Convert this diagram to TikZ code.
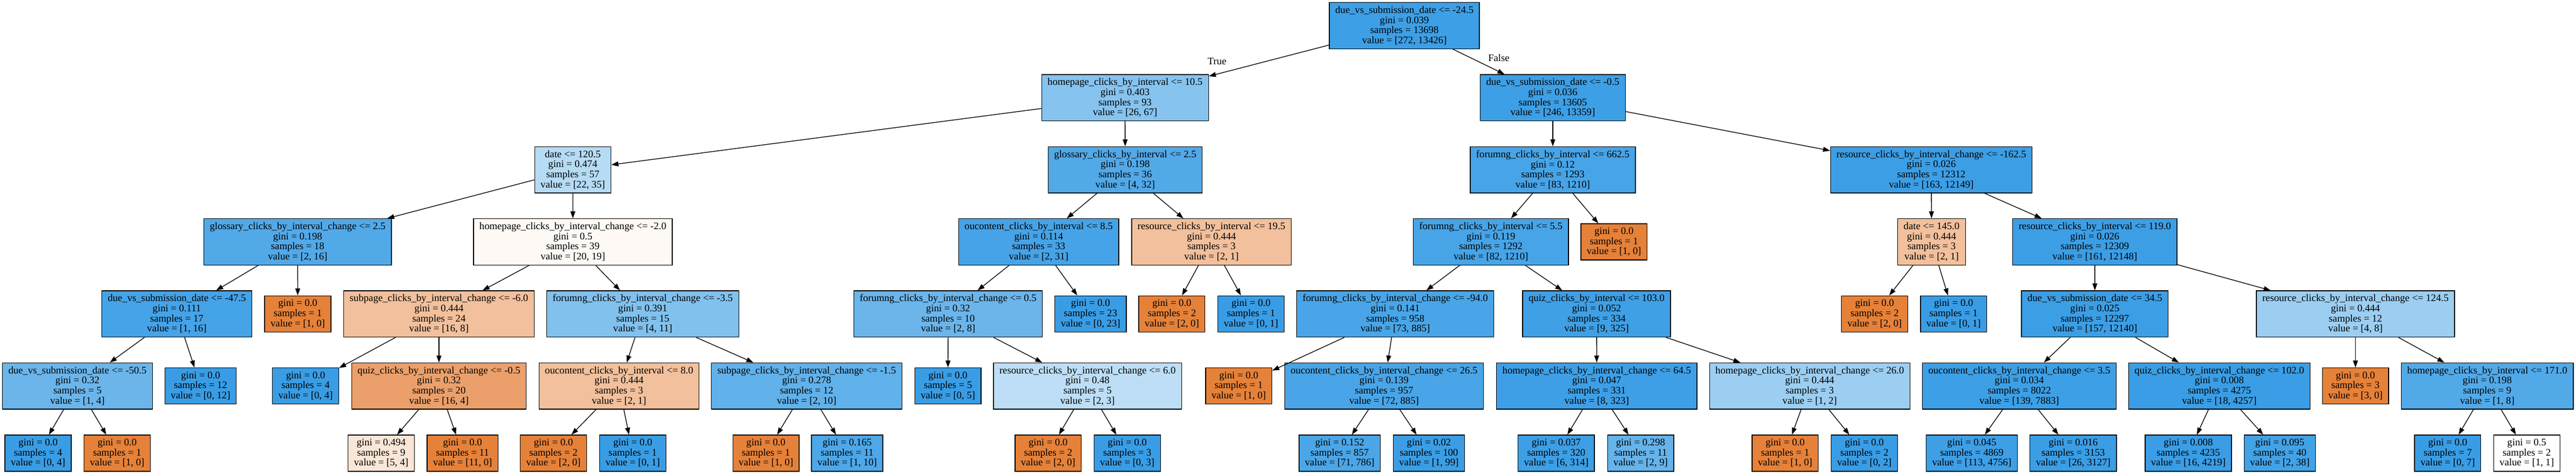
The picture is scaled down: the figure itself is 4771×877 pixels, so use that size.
\documentclass[tikz,border=0pt]{standalone}
\usepackage{fontspec}
\setmainfont{Liberation Serif}
\newfontfamily\treefam{Liberation Serif}
\usetikzlibrary{arrows.meta}
\definecolor{skb}{RGB}{57,157,229}
\definecolor{sko}{RGB}{229,129,57}
\newcommand{\treefont}{\treefam\fontsize{18.67pt}{18.67pt}\selectfont}
\tikzset{
  tn/.style={draw=black, line width=1.33pt, rectangle, align=center, inner xsep=11pt, inner ysep=2pt, minimum height=85.5pt, font=\treefont},
  lf/.style={tn, minimum height=67pt},
  edge/.style={line width=1.33pt, -{Triangle[length=13pt,width=9pt]}},
  elabel/.style={font=\treefont, inner sep=0pt},
}
\begin{document}
\begin{tikzpicture}[x=1pt,y=-1pt]
\fill[white] (0,0) rectangle (4771,877);
\useasboundingbox (0,0) rectangle (4771,877);
% Level 0
\node[tn, fill=skb!98!white] (r) at (2601.1,47.5) {due\_vs\_submission\_date <= -24.5\\gini = 0.039\\samples = 13698\\value = [272, 13426]};
% Level 1
\node[tn, fill=skb!61.2!white] (a) at (2083.7,180.8) {homepage\_clicks\_by\_interval <= 10.5\\gini = 0.403\\samples = 93\\value = [26, 67]};
\node[tn, fill=skb!98.2!white] (b) at (2875.9,180.8) {due\_vs\_submission\_date <= -0.5\\gini = 0.036\\samples = 13605\\value = [246, 13359]};
% Level 2
\node[tn, fill=skb!37.1!white] (aa) at (1060.9,314.2) {date <= 120.5\\gini = 0.474\\samples = 57\\value = [22, 35]};
\node[tn, fill=skb!87.5!white] (ab) at (2084,314.2) {glossary\_clicks\_by\_interval <= 2.5\\gini = 0.198\\samples = 36\\value = [4, 32]};
\node[tn, fill=skb!93.1!white] (ba) at (2875.9,314.2) {forumng\_clicks\_by\_interval <= 662.5\\gini = 0.12\\samples = 1293\\value = [83, 1210]};
\node[tn, fill=skb!98.7!white] (bb) at (3576.9,314.2) {resource\_clicks\_by\_interval\_change <= -162.5\\gini = 0.026\\samples = 12312\\value = [163, 12149]};
% Level 3
\node[tn, fill=skb!87.5!white] (aaa) at (551.3,447.5) {glossary\_clicks\_by\_interval\_change <= 2.5\\gini = 0.198\\samples = 18\\value = [2, 16]};
\node[tn, fill=sko!5!white] (aab) at (1061,447.5) {homepage\_clicks\_by\_interval\_change <= -2.0\\gini = 0.5\\samples = 39\\value = [20, 19]};
\node[tn, fill=skb!93.5!white] (aba) at (1923.7,447.5) {oucontent\_clicks\_by\_interval <= 8.5\\gini = 0.114\\samples = 33\\value = [2, 31]};
\node[tn, fill=sko!50!white] (abb) at (2243.7,447.5) {resource\_clicks\_by\_interval <= 19.5\\gini = 0.444\\samples = 3\\value = [2, 1]};
\node[tn, fill=skb!93.2!white] (baa) at (2761.3,447.5) {forumng\_clicks\_by\_interval <= 5.5\\gini = 0.119\\samples = 1292\\value = [82, 1210]};
\node[lf, fill=sko] (bab) at (2989.2,447.5) {gini = 0.0\\samples = 1\\value = [1, 0]};
\node[tn, fill=sko!50!white] (bba) at (3577.4,447.5) {date <= 145.0\\gini = 0.444\\samples = 3\\value = [2, 1]};
\node[tn, fill=skb!98.7!white] (bbb) at (3879.8,447.5) {resource\_clicks\_by\_interval <= 119.0\\gini = 0.026\\samples = 12309\\value = [161, 12148]};
% Level 4
\node[tn, fill=skb!93.75!white] (aaaa) at (327.5,580.8) {due\_vs\_submission\_date <= -47.5\\gini = 0.111\\samples = 17\\value = [1, 16]};
\node[lf, fill=sko] (aaab) at (551.5,580.8) {gini = 0.0\\samples = 1\\value = [1, 0]};
\node[tn, fill=sko!50!white] (aaba) at (813,580.8) {subpage\_clicks\_by\_interval\_change <= -6.0\\gini = 0.444\\samples = 24\\value = [16, 8]};
\node[tn, fill=skb!63.6!white] (aabb) at (1190.4,580.8) {forumng\_clicks\_by\_interval\_change <= -3.5\\gini = 0.391\\samples = 15\\value = [4, 11]};
\node[tn, fill=skb!75!white] (abaa) at (1756,580.8) {forumng\_clicks\_by\_interval\_change <= 0.5\\gini = 0.32\\samples = 10\\value = [2, 8]};
\node[lf, fill=skb] (abab) at (2019.8,580.8) {gini = 0.0\\samples = 23\\value = [0, 23]};
\node[lf, fill=sko] (abba) at (2170.4,580.8) {gini = 0.0\\samples = 2\\value = [2, 0]};
\node[lf, fill=skb] (abbb) at (2317,580.8) {gini = 0.0\\samples = 1\\value = [0, 1]};
\node[tn, fill=skb!91.75!white] (baaa) at (2584.1,580.8) {forumng\_clicks\_by\_interval\_change <= -94.0\\gini = 0.141\\samples = 958\\value = [73, 885]};
\node[tn, fill=skb!97.2!white] (baab) at (2957,580.8) {quiz\_clicks\_by\_interval <= 103.0\\gini = 0.052\\samples = 334\\value = [9, 325]};
\node[lf, fill=sko] (bbaa) at (3471.9,580.8) {gini = 0.0\\samples = 2\\value = [2, 0]};
\node[lf, fill=skb] (bbab) at (3618.2,580.8) {gini = 0.0\\samples = 1\\value = [0, 1]};
\node[tn, fill=skb!98.7!white] (bbba) at (3879.9,580.8) {due\_vs\_submission\_date <= 34.5\\gini = 0.025\\samples = 12297\\value = [157, 12140]};
\node[tn, fill=skb!50!white] (bbbb) at (4362.5,580.8) {resource\_clicks\_by\_interval\_change <= 124.5\\gini = 0.444\\samples = 12\\value = [4, 8]};
% Level 5
\node[tn, fill=skb!75!white] (aaaaa) at (143.5,714.2) {due\_vs\_submission\_date <= -50.5\\gini = 0.32\\samples = 5\\value = [1, 4]};
\node[lf, fill=skb] (aaaab) at (371.5,714.2) {gini = 0.0\\samples = 12\\value = [0, 12]};
\node[lf, fill=skb] (aabaa) at (566,714.2) {gini = 0.0\\samples = 4\\value = [0, 4]};
\node[tn, fill=sko!75!white] (aabab) at (813,714.2) {quiz\_clicks\_by\_interval\_change <= -0.5\\gini = 0.32\\samples = 20\\value = [16, 4]};
\node[tn, fill=sko!50!white] (aabba) at (1146.5,714.2) {oucontent\_clicks\_by\_interval <= 8.0\\gini = 0.444\\samples = 3\\value = [2, 1]};
\node[tn, fill=skb!80!white] (aabbb) at (1494,714.2) {subpage\_clicks\_by\_interval\_change <= -1.5\\gini = 0.278\\samples = 12\\value = [2, 10]};
\node[lf, fill=skb] (abaaa) at (1755.7,714.2) {gini = 0.0\\samples = 5\\value = [0, 5]};
\node[tn, fill=skb!33.3!white] (abaab) at (2014.2,714.2) {resource\_clicks\_by\_interval\_change <= 6.0\\gini = 0.48\\samples = 5\\value = [2, 3]};
\node[lf, fill=sko] (baaaa) at (2294.2,714.2) {gini = 0.0\\samples = 1\\value = [1, 0]};
\node[tn, fill=skb!91.9!white] (baaab) at (2563.4,714.2) {oucontent\_clicks\_by\_interval\_change <= 26.5\\gini = 0.139\\samples = 957\\value = [72, 885]};
\node[tn, fill=skb!97.5!white] (baaba) at (2957.3,714.2) {homepage\_clicks\_by\_interval\_change <= 64.5\\gini = 0.047\\samples = 331\\value = [8, 323]};
\node[tn, fill=skb!50!white] (baabb) at (3351.8,714.2) {homepage\_clicks\_by\_interval\_change <= 26.0\\gini = 0.444\\samples = 3\\value = [1, 2]};
\node[tn, fill=skb!98.2!white] (bbbaa) at (3739.9,714.2) {oucontent\_clicks\_by\_interval\_change <= 3.5\\gini = 0.034\\samples = 8022\\value = [139, 7883]};
\node[tn, fill=skb!99.6!white] (bbbab) at (4110.4,714.2) {quiz\_clicks\_by\_interval\_change <= 102.0\\gini = 0.008\\samples = 4275\\value = [18, 4257]};
\node[lf, fill=sko] (bbbba) at (4362.5,714.2) {gini = 0.0\\samples = 3\\value = [3, 0]};
\node[tn, fill=skb!87.5!white] (bbbbb) at (4606.6,714.2) {homepage\_clicks\_by\_interval <= 171.0\\gini = 0.198\\samples = 9\\value = [1, 8]};
% Level 6
\node[lf, fill=skb] (aaaaaa) at (70.5,838.5) {gini = 0.0\\samples = 4\\value = [0, 4]};
\node[lf, fill=sko] (aaaaab) at (217,838.5) {gini = 0.0\\samples = 1\\value = [1, 0]};
\node[lf, fill=sko!20!white] (aababa) at (706,838.5) {gini = 0.494\\samples = 9\\value = [5, 4]};
\node[lf, fill=sko] (aababb) at (856.7,838.5) {gini = 0.0\\samples = 11\\value = [11, 0]};
\node[lf, fill=sko] (aabbaa) at (1025,838.5) {gini = 0.0\\samples = 2\\value = [2, 0]};
\node[lf, fill=skb] (aabbab) at (1171.9,838.5) {gini = 0.0\\samples = 1\\value = [0, 1]};
\node[lf, fill=sko] (aabbba) at (1418.6,838.5) {gini = 0.0\\samples = 1\\value = [1, 0]};
\node[lf, fill=skb!90!white] (aabbbb) at (1569,838.5) {gini = 0.165\\samples = 11\\value = [1, 10]};
\node[lf, fill=sko] (abaaba) at (1941.2,838.5) {gini = 0.0\\samples = 2\\value = [2, 0]};
\node[lf, fill=skb] (abaabb) at (2087.8,838.5) {gini = 0.0\\samples = 3\\value = [0, 3]};
\node[lf, fill=skb!91!white] (baaaba) at (2481.2,838.5) {gini = 0.152\\samples = 857\\value = [71, 786]};
\node[lf, fill=skb!99!white] (baaabb) at (2646.5,838.5) {gini = 0.02\\samples = 100\\value = [1, 99]};
\node[lf, fill=skb!98.1!white] (baabaa) at (2882.3,838.5) {gini = 0.037\\samples = 320\\value = [6, 314]};
\node[lf, fill=skb!77.8!white] (baabab) at (3038.5,838.5) {gini = 0.298\\samples = 11\\value = [2, 9]};
\node[lf, fill=sko] (baabba) at (3306.2,838.5) {gini = 0.0\\samples = 1\\value = [1, 0]};
\node[lf, fill=skb] (baabbb) at (3452.9,838.5) {gini = 0.0\\samples = 2\\value = [0, 2]};
\node[lf, fill=skb!97.6!white] (bbbaaa) at (3651.9,838.5) {gini = 0.045\\samples = 4869\\value = [113, 4756]};
\node[lf, fill=skb!99.2!white] (bbbaab) at (3839.8,838.5) {gini = 0.016\\samples = 3153\\value = [26, 3127]};
\node[lf, fill=skb!99.6!white] (bbbaba) at (4052.9,838.5) {gini = 0.008\\samples = 4235\\value = [16, 4219]};
\node[lf, fill=skb!94.7!white] (bbbabb) at (4222.4,838.5) {gini = 0.095\\samples = 40\\value = [2, 38]};
\node[lf, fill=skb] (bbbbba) at (4533.4,838.5) {gini = 0.0\\samples = 7\\value = [0, 7]};
\node[lf, fill=white] (bbbbbb) at (4679.8,838.5) {gini = 0.5\\samples = 2\\value = [1, 1]};
% Edge labels
\node[elabel] (ltrue) at (2254,113) {True};
\node[elabel] (lfalse) at (2776,107) {False};
% Edges
\foreach \p/\c in {r/a, r/b, a/aa, a/ab, b/ba, b/bb,
  aa/aaa, aa/aab, ab/aba, ab/abb, ba/baa, ba/bab, bb/bba, bb/bbb,
  aaa/aaaa, aaa/aaab, aab/aaba, aab/aabb, aba/abaa, aba/abab, abb/abba, abb/abbb,
  baa/baaa, baa/baab, bba/bbaa, bba/bbab, bbb/bbba, bbb/bbbb,
  aaaa/aaaaa, aaaa/aaaab, aaba/aabaa, aaba/aabab, aabb/aabba, aabb/aabbb,
  abaa/abaaa, abaa/abaab, baaa/baaaa, baaa/baaab, baab/baaba, baab/baabb,
  bbba/bbbaa, bbba/bbbab, bbbb/bbbba, bbbb/bbbbb,
  aaaaa/aaaaaa, aaaaa/aaaaab, aabab/aababa, aabab/aababb, aabba/aabbaa, aabba/aabbab,
  aabbb/aabbba, aabbb/aabbbb, abaab/abaaba, abaab/abaabb, baaab/baaaba, baaab/baaabb,
  baaba/baabaa, baaba/baabab, baabb/baabba, baabb/baabbb, bbbaa/bbbaaa, bbbaa/bbbaab,
  bbbab/bbbaba, bbbab/bbbabb, bbbbb/bbbbba, bbbbb/bbbbbb}
  {\draw[edge] (\p) -- (\c);}
\end{tikzpicture}
\end{document}
